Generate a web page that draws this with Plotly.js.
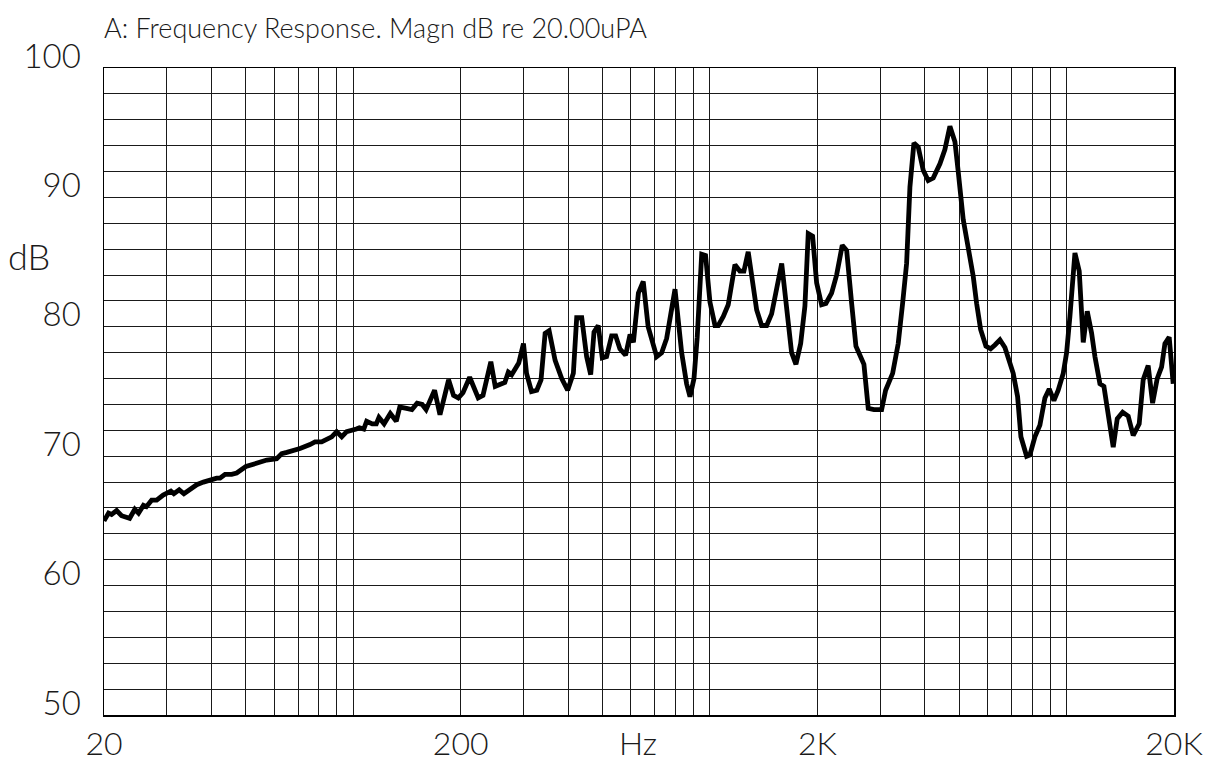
<!DOCTYPE html>
<html>
<head>
<meta charset="utf-8">
<script src="https://cdn.plot.ly/plotly-3.0.1.min.js"></script>
<style>
html,body{margin:0;padding:0;background:#fff;}
#chart{width:1217px;height:762px;}
</style>
</head>
<body>
<div id="chart"></div>
<script>
// Frequency (Hz) and magnitude (dB re 20 uPa)
const freqHz = [20,20.6,21.0,21.7,22.4,23.6,24.4,25.0,25.8,26.3,27.2,28.1,29.3,30.8,31.4,32.5,33.5,34.8,36.4,38.0,40.1,41.4,42.3,43.7,45.6,47.1,50.0,52.4,54.7,57.2,61.0,63.0,65.1,69.4,70.9,75.6,78.1,81.5,85.1,87.0,89.8,92.8,95.8,100,102,104,107,109,113,116,118,122,127,132,135,141,146,151,156,160,169,175,185,
191,197,203,212,224,231,243,250,266,272,278,291,300,306,316,327,336,345,354,368,384,399,414,423,437,451,463,473,486,499,513,530,544,559,580,597,610,630,650,671,709,732,756,798,833,860,879,902,921,948,972,1000,
1033,1055,1090,1125,1175,1213,1245,1280,1352,1396,1442,1489,1589,1694,1742,1796,1846,1886,1940,1991,2056,2114,2193,2265,2349,2417,2496,2566,2633,2702,2778,2882,3029,3108,3252,3371,3468,3559,3636,3731,3836,3962,4092,4226,4413,4557,4707,
4862,4966,5129,5298,5472,5593,5739,5938,6121,6294,6501,6714,6935,7083,7287,7444,7724,7889,8148,8415,8692,8936,9211,9471,9782,9998,10214,10550,10848,11132,11422,11750,12004,12398,12722,13082,13510,13864,14356,14882,15370,15976,16392,16928,17420,17946,18462,18860,19388,19894];

const levelDb = [65.0,65.6,65.5,65.8,65.4,65.2,65.9,65.6,66.2,66.1,66.6,66.6,67.0,67.3,67.1,67.4,67.1,67.4,67.8,68.0,68.2,68.3,68.3,68.6,68.6,68.7,69.2,69.4,69.5,69.7,69.8,70.2,70.3,70.5,70.6,70.9,71.1,71.1,71.4,71.5,71.9,71.5,71.9,72.0,72.1,72.2,72.1,72.7,72.5,72.5,73.0,72.5,73.3,72.7,73.8,73.7,73.6,74.1,74.0,73.6,75.1,73.2,75.9,
74.7,74.5,74.9,76.1,74.5,74.7,77.3,75.4,75.7,76.5,76.3,77.2,78.7,76.4,75.0,75.1,75.9,79.5,79.7,77.4,76.0,75.1,76.4,80.7,80.7,77.7,76.3,79.6,80.1,77.6,77.7,79.3,79.3,78.3,77.8,79.4,78.8,82.6,83.5,80.0,77.7,78.0,79.1,82.9,78.0,75.6,74.6,76.0,79.2,85.6,85.5,81.9,
80.1,80.1,80.8,81.7,84.8,84.3,84.3,85.8,81.3,80.1,80.1,81.0,84.9,78.0,77.1,78.7,81.6,87.2,87.0,83.4,81.7,81.8,82.6,84.0,86.3,85.9,81.8,78.5,77.8,77.1,73.7,73.6,73.6,75.1,76.4,78.7,81.8,84.9,90.8,94.2,93.9,92.1,91.3,91.5,92.6,93.7,95.5,
94.3,92.0,88.3,86.1,83.9,81.8,79.8,78.5,78.3,78.6,79.0,78.4,77.2,76.4,74.6,71.5,70.0,70.1,71.5,72.4,74.5,75.2,74.3,75.1,76.4,78.0,80.8,85.7,84.3,78.8,81.2,79.5,77.7,75.6,75.4,73.1,70.7,72.9,73.4,73.1,71.6,72.5,75.9,77.0,74.1,76.0,76.9,78.7,79.2,75.6];

// Axis ticks / labels
const xTickVals = [20, 200, 2000, 20000];
const xTickText = ['20', '200', '2K', '20K'];
const xGridVals = [20,30,40,50,60,70,80,90,100,200,300,400,500,600,700,800,900,1000,2000,3000,4000,5000,6000,7000,8000,9000,10000,20000];
const yTickVals = [50, 60, 70, 80, 90, 100];
const yTickText = ['50', '60', '70', '80', '90', '100'];
const yGridStep = 2;
const xRange = [20, 20000];
const yRange = [50, 100];

const titleText = 'A: Frequency Response. Magn dB re 20.00uPA';
const xUnit = 'Hz';
const yUnit = 'dB';

const FONT = 'Lato, "DejaVu Sans", sans-serif';
const GRID = '#1a1a1a';

const trace = {
  x: freqHz, y: levelDb, type: 'scatter', mode: 'lines',
  line: {color: '#000', width: 4.8},
  hoverinfo: 'skip'
};

const layout = {
  width: 1217, height: 762,
  margin: {l: 104, r: 43, t: 68, b: 47},
  paper_bgcolor: '#fff', plot_bgcolor: '#fff',
  showlegend: false,
  title: {
    text: titleText, xref: 'paper', x: 0, xanchor: 'left',
    yref: 'container', y: 0.963, yanchor: 'middle',
    font: {family: FONT, size: 27, color: '#1a1a1a', weight: 300}
  },
  xaxis: {
    type: 'log',
    range: [Math.log10(xRange[0]), Math.log10(xRange[1])],
    tickmode: 'array', tickvals: xTickVals, ticktext: xTickText,
    ticks: '', ticklabelstandoff: 0,
    tickfont: {family: FONT, size: 32, color: '#1a1a1a', weight: 300},
    showgrid: true, gridcolor: GRID, gridwidth: 1,
    minor: {tickmode: 'array', tickvals: xGridVals, showgrid: true, gridcolor: GRID, gridwidth: 1, ticks: ''},
    showline: true, linecolor: '#000', linewidth: 1.5, mirror: true,
    zeroline: false, fixedrange: true
  },
  yaxis: {
    range: yRange,
    tickmode: 'array', tickvals: yTickVals, ticktext: yTickText,
    ticks: '', ticklabelstandoff: 15, ticklabelshift: -12,
    tickfont: {family: FONT, size: 33, color: '#1a1a1a', weight: 300},
    showgrid: true, gridcolor: GRID, gridwidth: 1,
    minor: {dtick: yGridStep, tick0: yRange[0], showgrid: true, gridcolor: GRID, gridwidth: 1, ticks: ''},
    showline: true, linecolor: '#000', linewidth: 1.5, mirror: true,
    zeroline: false, fixedrange: true
  },
  annotations: [
    {text: xUnit, xref: 'paper', x: 0.4995, xanchor: 'center', yref: 'paper', y: 0, yanchor: 'top', yshift: -6,
     showarrow: false, font: {family: FONT, size: 32, color: '#1a1a1a', weight: 300}},
    {text: yUnit, xref: 'paper', x: -0.092, xanchor: 'left', yref: 'paper', y: 0.709, yanchor: 'middle',
     showarrow: false, font: {family: FONT, size: 36, color: '#1a1a1a', weight: 300}}
  ]
};

Plotly.newPlot('chart', [trace], layout, {displayModeBar: false, staticPlot: true});
</script>
</body>
</html>
